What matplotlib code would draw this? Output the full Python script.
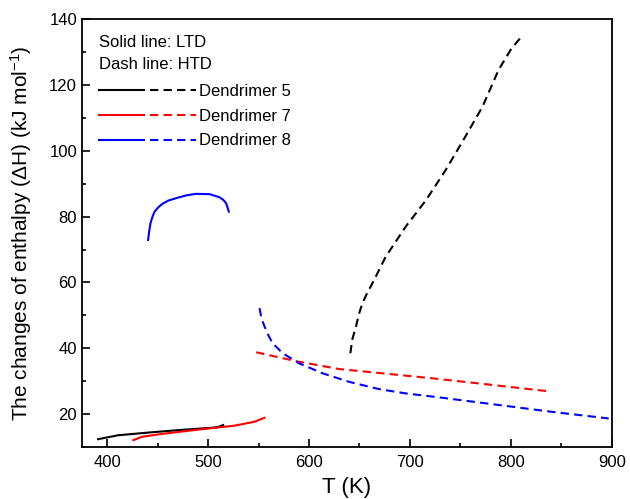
import numpy as np
import matplotlib
matplotlib.use("Agg")
import matplotlib.pyplot as plt
from matplotlib.lines import Line2D
from matplotlib.ticker import MultipleLocator

plt.rcParams['font.family'] = ['Liberation Sans', 'DejaVu Sans']
plt.rcParams['mathtext.fontset'] = 'custom'
plt.rcParams['mathtext.rm'] = 'Liberation Sans'
plt.rcParams['mathtext.it'] = 'Liberation Sans:italic'

# ---- data (T in K, dH in kJ/mol) ----
# LTD (solid lines)
t5_ltd = [391, 411, 444, 477, 505, 510, 515]
h5_ltd = [12.4, 13.6, 14.5, 15.3, 15.9, 16.1, 16.7]
t7_ltd = [426, 434, 454, 493, 526, 546, 556]
h7_ltd = [12.1, 13.1, 14.0, 15.4, 16.5, 17.7, 18.9]
t8_ltd = [440.6, 441.8, 443, 445, 447, 451, 455, 461, 468.6, 478, 488, 501.6, 511, 515, 518, 520.6]
h8_ltd = [72.9, 75.8, 78.0, 80.0, 81.5, 82.9, 83.9, 84.9, 85.6, 86.4, 86.9, 86.8, 85.9, 85.1, 84.0, 81.5]

# HTD (dashed lines)
t5_htd = [641, 643, 646.6, 649.5, 653, 658, 663, 676, 696, 716, 735.6, 755, 772, 788, 800, 806, 811]
h5_htd = [38.5, 42.8, 46.6, 50.4, 53.7, 57.0, 59.8, 67.8, 77.0, 85.0, 94.2, 104.3, 113.4, 124.6, 130.7, 133.0, 134.7]
t7_htd = [547.7, 587, 630, 679.5, 722, 775, 836]
h7_htd = [38.8, 36.1, 33.7, 32.2, 30.9, 29.1, 27.0]
t8_htd = [551, 553, 556, 560, 564, 574, 590.5, 613.6, 640, 669.6, 696, 729, 775, 841, 897]
h8_htd = [52.2, 49.0, 46.6, 43.8, 41.5, 38.5, 35.4, 32.4, 29.8, 27.6, 26.3, 25.1, 23.3, 20.7, 18.7]

names = ['Dendrimer 5', 'Dendrimer 7', 'Dendrimer 8']
colors = ['black', 'red', 'blue']


class SolidDashHandler:
    # legend sample: solid segment then dashed segment
    def legend_artist(self, legend, orig_handle, fontsize, handlebox):
        x0, y0 = handlebox.xdescent, handlebox.ydescent
        w, h = handlebox.width, handlebox.height
        c = orig_handle.get_color()
        l1 = Line2D([x0, x0 + 0.47 * w], [y0 + h / 2] * 2, color=c, lw=1.5,
                    transform=handlebox.get_transform())
        l2 = Line2D([x0 + 0.53 * w, x0 + w], [y0 + h / 2] * 2, color=c, lw=1.5,
                    dashes=(4, 2.5), transform=handlebox.get_transform())
        handlebox.add_artist(l1)
        handlebox.add_artist(l2)
        return l1


fig = plt.figure(figsize=(6.3, 4.99), dpi=100)
ax = fig.add_axes([0.130, 0.104, 0.841, 0.858])

ltd = [(t5_ltd, h5_ltd), (t7_ltd, h7_ltd), (t8_ltd, h8_ltd)]
htd = [(t5_htd, h5_htd), (t7_htd, h7_htd), (t8_htd, h8_htd)]
handles = []
for (tl, hl), (th, hh), c, n in zip(ltd, htd, colors, names):
    ln, = ax.plot(tl, hl, color=c, lw=1.5, label=n)
    ax.plot(th, hh, color=c, lw=1.5, dashes=(4, 2.5))
    handles.append(ln)

ax.set_xlim(375, 900)
ax.set_ylim(10, 140)
ax.xaxis.set_major_locator(MultipleLocator(100))
ax.xaxis.set_minor_locator(MultipleLocator(50))
ax.yaxis.set_major_locator(MultipleLocator(20))
ax.yaxis.set_minor_locator(MultipleLocator(10))
ax.tick_params(which='both', direction='in', labelsize=12, width=1.2)
ax.tick_params(which='major', length=6)
ax.tick_params(which='minor', length=3)
ax.tick_params(axis='x', pad=5.5)
for s in ax.spines.values():
    s.set_linewidth(1.3)

ax.set_xlabel('T (K)', fontsize=16, labelpad=5)
ax.set_ylabel('The changes of enthalpy (ΔH) (kJ mol$^{-1}$)', fontsize=15, labelpad=11)

ax.text(0.032, 0.945, 'Solid line: LTD', transform=ax.transAxes, fontsize=12, va='center')
ax.text(0.032, 0.893, 'Dash line: HTD', transform=ax.transAxes, fontsize=12, va='center')
ax.legend(handles=handles, loc='upper left', bbox_to_anchor=(0.01, 0.875),
          frameon=False, fontsize=12, handlelength=5.8, handletextpad=0.2,
          labelspacing=0.58, borderaxespad=0.3,
          handler_map={Line2D: SolidDashHandler()})

fig.savefig('out.png', dpi=100)
